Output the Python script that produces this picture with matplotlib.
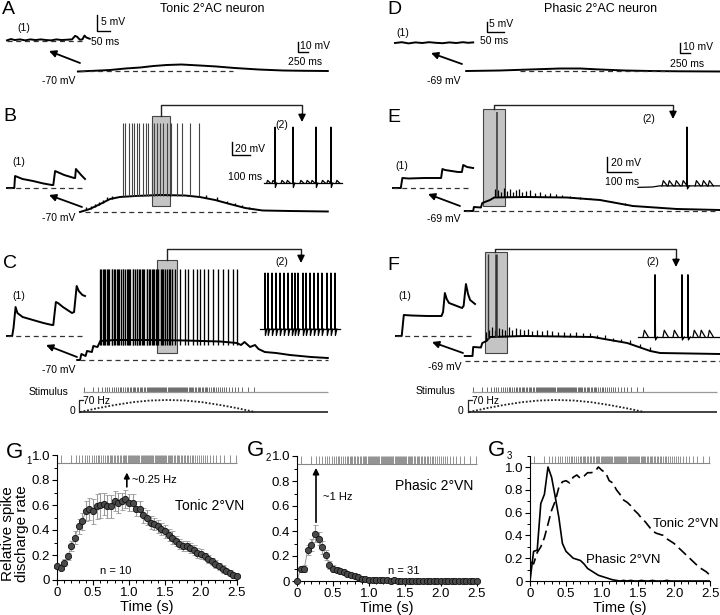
import numpy as np
import matplotlib
matplotlib.use("Agg")
import matplotlib.pyplot as plt
from matplotlib.patches import Rectangle
from matplotlib.ticker import MultipleLocator

plt.rcParams["font.family"] = ["Liberation Sans", "DejaVu Sans"]

W, H = 720, 615

# ---------------- recordings (time s from stimulus onset, membrane mV) ----------------
A_t = [-0.03, 0.2, 0.43, 0.65, 0.86, 1.05, 1.24, 1.45, 1.71, 1.95, 2.21, 2.55, 2.90, 3.2, 3.54]
A_v = [-70.5, -69.8, -69, -67.5, -66.5, -65, -64, -63.5, -64.5, -65.5, -67, -68.5, -69.5, -69.8, -70]
D_t = [-0.04, 0.44, 0.87, 1.30, 1.59, 1.87, 2.23, 2.59, 3.0, 3.59]
D_v = [-69, -68.5, -67.5, -66.5, -66.5, -67.5, -68.5, -69, -69.3, -69.5]

B_t = [0.0, 0.14, 0.29, 0.43, 0.57, 0.79, 1.14, 1.50, 1.71, 1.93, 2.14, 2.36, 2.61, 3.00, 3.54]
B_v = [-70, -67, -62, -57, -55, -54, -53, -53.5, -55, -58, -62, -66, -68.5, -69, -69.5]
B_spk = [0.61, 0.64, 0.70, 0.74, 0.77, 0.81, 0.84, 0.90, 0.94, 0.97, 1.03, 1.06,
         1.10, 1.14, 1.19, 1.24, 1.30, 1.39, 1.46, 1.57, 1.70]
B_ep_t = [0.08, 0.15, 0.21, 0.27, 0.33, 0.39, 0.45, 1.80, 1.95, 2.10, 2.22, 2.32, 2.42]
B_ep_h = [3, 3, 3, 3, 3, 3, 3, 3, 3, 2.5, 2.5, 2, 2]

C_t = [-0.04, 0.0, 0.02, 0.08, 0.10, 0.17, 0.19, 0.25, 0.29, 0.5, 1.0, 1.5, 2.0, 2.24,
       2.30, 2.35, 2.43, 2.50, 2.55, 2.64, 2.8, 3.0, 3.3, 3.54]
C_v = [-70, -70, -64, -66, -61, -62, -56, -57, -51, -50, -50, -50.5, -51.5, -53,
       -55, -52, -57, -55, -59, -62, -63, -65, -67, -68]
C_spk = [0.29, 0.30, 0.33, 0.34, 0.36, 0.39, 0.40, 0.42, 0.45, 0.46, 0.48, 0.50, 0.53,
         0.54, 0.56, 0.58, 0.61, 0.62, 0.64, 0.67, 0.68, 0.70, 0.72, 0.75, 0.76, 0.78,
         0.81, 0.82, 0.84, 0.86, 0.89, 0.90, 0.92, 0.95, 0.96, 0.98, 1.00, 1.03, 1.04,
         1.06, 1.09, 1.10, 1.12, 1.15, 1.17, 1.19, 1.22, 1.24, 1.27, 1.29, 1.32, 1.35,
         1.43, 1.50, 1.54, 1.61, 1.67, 1.71, 1.77, 1.83, 1.90, 1.97, 2.04, 2.11, 2.19, 2.24]

E_t = [-0.06, 0.06, 0.07, 0.17, 0.19, 0.30, 0.36, 0.80, 1.40, 1.87, 2.34, 2.97, 3.59]
E_v = [-69, -69, -65, -65.5, -61, -58, -55.5, -55, -55.5, -58, -64, -67, -68]
E_ep_t = [0.37, 0.41, 0.46, 0.50, 0.54, 0.59, 0.63, 0.67, 0.71, 0.76, 0.81, 0.87, 0.94,
          1.01, 1.09, 1.16, 1.24, 1.33, 1.44, 1.59, 1.73, 1.87, 2.04, 2.23]
E_ep_h = [8, 7, 5, 9, 6, 8, 5, 7, 8, 5, 6, 7, 4, 5, 3, 4, 3, 2.5, 2, 2, 1.5, 1.5, 1.2, 1.2]
E_big = [0.40]

F_t = [-0.06, 0.05, 0.06, 0.17, 0.19, 0.25, 0.30, 0.80, 1.30, 1.77, 2.26, 2.59, 2.73, 3.59]
F_v = [-64, -64, -55, -55.5, -51, -49, -45, -44, -44.5, -45, -51, -59, -61, -62]
F_ep_t = [0.24, 0.29, 0.33, 0.37, 0.43, 0.47, 0.51, 0.57, 0.61, 0.67, 0.73, 0.79, 0.84,
          0.90, 0.97, 1.04, 1.11, 1.19, 1.27, 1.36, 1.44, 1.53, 1.63, 1.73, 1.83, 1.94,
          2.06, 2.17, 2.30, 2.44, 2.59]
F_ep_h = [9, 8, 10, 7, 9, 8, 7, 9, 6, 8, 7, 6, 7, 5, 6, 5, 6, 5, 4, 5, 4, 5, 4, 4, 3, 4,
          3, 3, 4, 3, 4]
F_big = [0.27, 0.39]

# inset (1): onset of response, ms / mV
A1_t = [0, 15, 30, 50, 70, 90, 110, 130, 150, 170, 190, 210, 230, 250, 262, 270, 280, 290, 298, 305, 318]
A1_v = [0.2, 0.6, 0.3, 0.5, 0.2, 0.5, 0.3, 0.5, 0.3, 0.2, 0.5, 0.3, 0.4, 0.5, 1.6, 1.3, 0.4, 0.5, 1.7, 1.1, 0.7]
D1_t = [0, 20, 40, 60, 80, 100, 120, 140, 160, 180, 200, 215, 230]
D1_v = [0.0, 0.4, -0.2, 0.3, 0.0, 0.4, 0.1, -0.1, 0.3, 0.0, 0.4, 0.1, 0.3]
B1_t = [0, 28, 31, 60, 100, 140, 173, 178, 185, 220, 258, 262, 265, 285, 300]
B1_v = [-70, -70, -58, -61, -63, -65.5, -67, -67, -53, -57, -60, -60, -51, -57, -61]
C1_t = [0, 20, 25, 33, 40, 60, 100, 140, 173, 178, 188, 196, 215, 250, 258, 268, 276, 290, 300]
C1_v = [-70, -70, -62, -41, -47, -51, -54, -57, -59, -59, -36, -37, -41, -47, -46, -20, -25, -29, -30]
E1_t = [0, 30, 36, 60, 120, 185, 190, 200, 250, 265, 270, 285, 308]
E1_v = [-69, -69, -59, -59.5, -59, -59, -50, -51, -53, -53, -46, -48, -49]
F1_t = [0, 22, 30, 60, 120, 175, 181, 188, 195, 204, 254, 260, 269, 277, 285, 304]
F1_v = [-69, -69, -48, -48.5, -49, -49, -45, -26, -32, -36, -41, -39, -17, -27, -33, -37]

# inset (2): expanded window, ms
B2_spk = [61, 161, 289, 372]
B2_ep = [15, 45, 95, 125, 200, 235, 262, 320, 350, 400]
C2_spk = [28, 44, 67, 89, 111, 133, 156, 178, 194, 211, 239, 256, 278, 300, 322, 344, 372, 394, 417]
E2_t = [0, 60, 90, 342]
E2_v = [-55.5, -55, -53.5, -53.5]
E2_ep = [100, 125, 154, 183, 238, 267, 292]
E2_spk = [204]
F2_ep = [21, 104, 146, 229, 258, 292]
F2_spk = [71, 183, 208]

# stimulus pulse train (s) and rate envelope (Hz)
stim_times = [0.05, 0.19, 0.26, 0.31, 0.35, 0.39, 0.42, 0.45, 0.48, 0.51, 0.54, 0.565,
              0.59, 0.615, 0.64, 0.665, 0.69, 0.71, 0.73, 0.75, 0.77, 0.79, 0.81, 0.83,
              0.85, 0.87, 0.89, 0.91, 0.93, 0.95, 0.965, 0.98, 0.995, 1.01, 1.025, 1.04,
              1.055, 1.07, 1.085, 1.10, 1.115, 1.13, 1.145, 1.16, 1.175, 1.19, 1.205,
              1.22, 1.235, 1.25, 1.265, 1.28, 1.295, 1.31, 1.325, 1.34, 1.355, 1.37,
              1.385, 1.40, 1.415, 1.43, 1.445, 1.46, 1.475, 1.49, 1.505, 1.52, 1.535,
              1.55, 1.565, 1.58, 1.60, 1.62, 1.64, 1.66, 1.68, 1.70, 1.72, 1.74, 1.76,
              1.78, 1.80, 1.82, 1.845, 1.87, 1.895, 1.92, 1.945, 1.97, 2.00, 2.03, 2.06,
              2.09, 2.13, 2.17, 2.21, 2.26, 2.32, 2.40, 2.48]
rate_t = [0.0, 0.25, 0.5, 0.75, 1.0, 1.25, 1.5, 1.75, 2.0, 2.25, 2.5]
rate_v = [0, 22, 41, 57, 67, 70, 67, 57, 41, 22, 0]

# population discharge (50 ms bins)
G_t = [0.0, 0.05, 0.1, 0.15, 0.2, 0.25, 0.3, 0.35, 0.4, 0.45, 0.5, 0.55, 0.6, 0.65, 0.7,
       0.75, 0.8, 0.85, 0.9, 0.95, 1.0, 1.05, 1.1, 1.15, 1.2, 1.25, 1.3, 1.35, 1.4, 1.45,
       1.5, 1.55, 1.6, 1.65, 1.7, 1.75, 1.8, 1.85, 1.9, 1.95, 2.0, 2.05, 2.1, 2.15, 2.2,
       2.25, 2.3, 2.35, 2.4, 2.45, 2.5]
tonic_rate = [0.11, 0.10, 0.14, 0.19, 0.27, 0.34, 0.43, 0.47, 0.55, 0.57,
              0.55, 0.59, 0.60, 0.61, 0.59, 0.59, 0.63, 0.62, 0.63, 0.65,
              0.62, 0.62, 0.57, 0.57, 0.52, 0.50, 0.46, 0.45, 0.43, 0.41,
              0.39, 0.36, 0.34, 0.31, 0.29, 0.27, 0.27, 0.26, 0.24, 0.22,
              0.21, 0.19, 0.17, 0.15, 0.13, 0.11, 0.09, 0.07, 0.06, 0.04, 0.03]
tonic_err = [0.02, 0.02, 0.03, 0.03, 0.04, 0.05, 0.06, 0.07, 0.08, 0.09,
             0.10, 0.10, 0.10, 0.09, 0.09, 0.09, 0.08, 0.08, 0.07, 0.07,
             0.07, 0.07, 0.06, 0.06, 0.06, 0.06, 0.05, 0.05, 0.05, 0.05,
             0.05, 0.05, 0.05, 0.04, 0.04, 0.04, 0.04, 0.04, 0.04, 0.04,
             0.04, 0.03, 0.03, 0.03, 0.03, 0.03, 0.03, 0.02, 0.02, 0.02, 0.01]
phasic_rate = [0.00, 0.10, 0.10, 0.25, 0.29, 0.38, 0.34, 0.27, 0.21, 0.13,
               0.10, 0.09, 0.08, 0.07, 0.06, 0.05, 0.04, 0.03, 0.02, 0.015,
               0.01, 0.01, 0.005, 0.005, 0.005, 0.005, 0.0, 0.005, 0.0, 0.0,
               0.0, 0.0, 0.0, 0.0, 0.0, 0.0, 0.0, 0.0, 0.0, 0.0,
               0.0, 0.0, 0.0, 0.0, 0.0, 0.0, 0.0, 0.0, 0.0, 0.0, 0.0]
phasic_err = [0.0, 0.02, 0.03, 0.04, 0.05, 0.07, 0.05, 0.05, 0.04, 0.03,
              0.03, 0.02, 0.02, 0.02, 0.02, 0.015, 0.015, 0.01, 0.01, 0.01,
              0.005, 0.005, 0.005, 0.005, 0.005, 0.005, 0.005, 0.005, 0.005, 0.005,
              0.005, 0.005, 0.005, 0.005, 0.005, 0.005, 0.005, 0.005, 0.005, 0.005,
              0.005, 0.005, 0.005, 0.005, 0.005, 0.005, 0.005, 0.005, 0.005, 0.005, 0.005]
phasic_norm = [0.00, 0.26, 0.27, 0.68, 0.76, 1.00, 0.91, 0.74, 0.56, 0.33,
               0.26, 0.23, 0.20, 0.19, 0.18, 0.15, 0.11, 0.09, 0.07, 0.05,
               0.04, 0.03, 0.02, 0.01, 0.005, 0.0, 0.005, 0.0, 0.005, 0.0,
               0.0, 0.005, 0.0, 0.0, 0.005, 0.0, 0.0, 0.0, 0.005, 0.0,
               0.0, 0.0, 0.0, 0.0, 0.0, 0.0, 0.0, 0.0, 0.0, 0.0, 0.0]
tonic_norm = [0.17, 0.15, 0.25, 0.30, 0.38, 0.50, 0.62, 0.70, 0.82, 0.87,
              0.88, 0.86, 0.91, 0.93, 0.90, 0.92, 0.95, 0.95, 0.96, 1.00,
              0.97, 0.95, 0.88, 0.86, 0.80, 0.76, 0.71, 0.69, 0.66, 0.62,
              0.59, 0.55, 0.52, 0.48, 0.44, 0.42, 0.41, 0.40, 0.37, 0.35,
              0.33, 0.30, 0.27, 0.24, 0.21, 0.18, 0.15, 0.12, 0.10, 0.08, 0.05]

# ---------------- helpers ----------------
fig = plt.figure(figsize=(7.2, 6.15), dpi=100)

DASH = (0, (4, 3))
BOX = "#c4c4c4"
TR = dict(color="black", lw=1.4, solid_joinstyle="round", zorder=2)


def px_axes(x0, y0, x1, y1, xa, ya, sx, sy):
    # axes over a pixel box; value xa[1] sits at pixel xa[0], sx/sy = px per unit
    ax = fig.add_axes([x0 / W, 1 - y1 / H, (x1 - x0) / W, (y1 - y0) / H])
    ax.set_xlim(xa[1] + (x0 - xa[0]) / sx, xa[1] + (x1 - xa[0]) / sx)
    ax.set_ylim(ya[1] - (y1 - ya[0]) / sy, ya[1] - (y0 - ya[0]) / sy)
    ax.axis("off")
    return ax


def ptext(x, y, s, size=7.5, ha="left", va="center", **kw):
    fig.text(x / W, 1 - y / H, s, fontsize=size, ha=ha, va=va, **kw)


def scalebar(ax, x, y, dx, dy):
    ax.plot([x, x, x + dx], [y + dy, y, y], color="black", lw=1.0, clip_on=False)


def dashed(ax, v, t0, t1):
    ax.hlines(v, t0, t1, color="#333", lw=0.9, linestyles=DASH)


def epsps(ax, times, heights, env_t, env_v, **kw):
    base = np.interp(times, env_t, env_v)
    ax.vlines(times, base, base + np.asarray(heights), zorder=3, **kw)


def bumps(ax, times, h, w, base_t, base_v):
    for t in times:
        b = np.interp(t, base_t, base_v)
        ax.plot([t, t + 0.25 * w, t + w], [b, b + h, b], color="black", lw=0.9)


def inset_spikes(ax, times, base, peak, dip):
    for t in times:
        ax.plot([t - 1, t, t + 2, t + 10], [base, peak, base - dip, base],
                color="black", lw=0.9)


# ---------------- A / D: subthreshold ----------------
axA = px_axes(40, 25, 345, 95, (80, 0), (71, -70), 70, 1.0)
axA.plot(A_t, A_v, **TR)
dashed(axA, -70, 0, 2.19)
scalebar(axA, 3.11, -51, 0.15, 10)
axA1 = px_axes(0, 5, 135, 55, (7, 0), (41, 0), 0.26, 3.2)
axA1.plot(A1_t, A1_v, **TR)
dashed(axA1, 0, 0, 290)
scalebar(axA1, 346, 3.1, 50, 5)

axD = px_axes(440, 25, 720, 95, (469, 0), (71, -69), 70, 1.0)
axD.plot(D_t, D_v, **TR)
dashed(axD, -69, 0.73, 2.87)
scalebar(axD, 3.01, -51, 0.15, 10)
axD1 = px_axes(385, 5, 530, 55, (395, 0), (43, 0), 0.34, 2.0)
axD1.plot(D1_t, D1_v, **TR)
scalebar(axD1, 271, 5.5, 50, 5)

# ---------------- B / E ----------------
axB = px_axes(40, 100, 345, 228, (80, 0), (212, -70), 70, 1.0)
axB.add_patch(Rectangle((1.03, -64), 0.26, 90, fc=BOX, ec="#444", lw=0.8, zorder=1))
axB.plot(B_t, B_v, **TR)
epsps(axB, B_ep_t, B_ep_h, B_t, B_v, color="black", lw=1.0)
axB.vlines(B_spk, -54, 19, color="#444", lw=0.8, zorder=3)
dashed(axB, -70, 0.07, 2.57)
axB1 = px_axes(0, 150, 95, 200, (7, 0), (188, -70), 0.26, 1.0)
axB1.plot(B1_t, B1_v, **TR)
dashed(axB1, -70, 0, 290)
axB2 = px_axes(215, 115, 350, 195, (264, 0), (183, -55), 0.18, 0.65)
axB2.plot([0, 433], [-55, -55], color="black", lw=0.9)
bumps(axB2, B2_ep, 4, 20, [0, 433], [-55, -55])
inset_spikes(axB2, B2_spk, -55, 31, 7)
scalebar(axB2, -178, -12, 100, 20)

axE = px_axes(440, 100, 720, 228, (469, 0), (211, -69), 70, 1.0)
axE.add_patch(Rectangle((0.2, -64), 0.31, 97, fc=BOX, ec="#444", lw=0.8, zorder=1))
axE.plot(E_t, E_v, **TR)
epsps(axE, E_ep_t, E_ep_h, E_t, E_v, color="black", lw=0.9)
epsps(axE, E_big, [30 - np.interp(E_big[0], E_t, E_v)], E_t, E_v, color="#333", lw=1.1)
dashed(axE, -69, -0.06, 3.54)
axE1 = px_axes(385, 150, 480, 200, (393, 0), (188, -69), 0.26, 1.0)
axE1.plot(E1_t, E1_v, **TR)
dashed(axE1, -69, 0, 300)
axE2 = px_axes(590, 115, 720, 195, (638, 0), (187, -55), 0.24, 0.75)
axE2.plot(E2_t, E2_v, color="black", lw=0.9)
bumps(axE2, E2_ep, 7, 22, E2_t, E2_v)
inset_spikes(axE2, E2_spk, -53.5, 25, 4)
scalebar(axE2, -129, -35, 100, 20)

# ---------------- C / F ----------------
axC = px_axes(40, 240, 345, 378, (80, 0), (360, -70), 70, 1.0)
axC.add_patch(Rectangle((1.10, -63), 0.29, 93, fc=BOX, ec="#444", lw=0.8, zorder=1))
axC.plot(C_t, C_v, **TR)
axC.vlines(C_spk, -55, 21, color="black", lw=0.95, zorder=3)
dashed(axC, -70, 0.0, 3.54)
axC1 = px_axes(0, 275, 95, 345, (7, 0), (336, -70), 0.26, 1.0)
axC1.plot(C1_t, C1_v, **TR)
dashed(axC1, -70, 0, 290)
axC2 = px_axes(250, 265, 350, 345, (260, 0), (329, -55), 0.18, 0.65)
axC2.plot([0, 444], [-55, -55], color="black", lw=0.9)
inset_spikes(axC2, C2_spk, -55, 31, 10)

axF = px_axes(440, 240, 720, 378, (469, 0), (361, -69), 70, 1.0)
axF.add_patch(Rectangle((0.23, -61), 0.31, 101, fc=BOX, ec="#444", lw=0.8, zorder=1))
axF.plot(F_t, F_v, **TR)
epsps(axF, F_ep_t, F_ep_h, F_t, F_v, color="black", lw=0.9)
epsps(axF, F_big[:1], [38 - np.interp(F_big[0], F_t, F_v)], F_t, F_v, color="#333", lw=1.0)
epsps(axF, F_big[1:], [38 - np.interp(F_big[1], F_t, F_v)], F_t, F_v, color="#333", lw=1.8)
dashed(axF, -69, -0.06, 3.59)
axF1 = px_axes(385, 275, 480, 345, (396, 0), (336, -69), 0.26, 1.0)
axF1.plot(F1_t, F1_v, **TR)
dashed(axF1, -69, 0, 300)
axF2 = px_axes(590, 265, 720, 345, (638, 0), (337, -55), 0.24, 0.75)
axF2.plot([0, 342], [-55, -55], color="black", lw=0.9)
bumps(axF2, F2_ep, 9, 22, [0, 342], [-55, -55])
inset_spikes(axF2, F2_spk, -55, 28, 4)

# ---------------- stimulus rows ----------------
for t0, xa, xb in ((80, 60, 340), (469, 440, 720)):
    st = px_axes(xa, 383, xb, 395, (t0, 0), (392, 0), 70, 5.0)
    st.vlines(stim_times, 0, 1, color="#555", lw=0.6)
    st.hlines(0, 0.04, 3.54, color="#999", lw=0.9)
    rt = px_axes(xa, 396, xb, 416, (t0, 0), (412, 0), 70, 12 / 70)
    rt.plot(rate_t, rate_v, color="#222", lw=1.3, linestyle=(0, (1, 1)))
    rt.hlines(0, -0.01, 3.54, color="#222", lw=1.2)
    rt.plot([0.04, -0.01, -0.01], [70, 70, 0], color="#222", lw=0.9)

ptext(68, 392, "Stimulus", 7.5, ha="right")
ptext(83, 401, "70 Hz", 7.5)
ptext(72, 411, "0", 7.5, ha="center")
ptext(455, 391, "Stimulus", 7.5, ha="right")
ptext(472, 401, "70 Hz", 7.5)
ptext(461, 411, "0", 7.5, ha="center")

# ---------------- G panels ----------------
def style_g(ax, ytop):
    for s in ("top", "right"):
        ax.spines[s].set_visible(False)
    for s in ("left", "bottom"):
        ax.spines[s].set_linewidth(0.8)
    ax.set_xlim(0, 2.5)
    ax.set_ylim(0, ytop)
    ax.set_xticks([0, 0.5, 1.0, 1.5, 2.0, 2.5])
    ax.set_xticklabels(["0", "0.5", "1.0", "1.5", "2.0", "2.5"])
    ax.set_yticks([0, 0.2, 0.4, 0.6, 0.8, 1.0])
    ax.set_yticklabels(["0", "0.2", "0.4", "0.6", "0.8", "1.0"])
    ax.xaxis.set_minor_locator(MultipleLocator(0.1))
    ax.yaxis.set_minor_locator(MultipleLocator(0.1))
    ax.tick_params(which="major", direction="out", length=3.5, width=0.8, labelsize=9.5, pad=1.5)
    ax.tick_params(which="minor", direction="out", length=2.5, width=0.7)
    ax.set_xlabel("Time (s)", fontsize=10.5, labelpad=1)
    ax.patch.set_alpha(0)


def g_axes(x0, y_bottom, height):
    return fig.add_axes([x0 / W, 1 - y_bottom / H, 180 / W, height / H])


def pulse_row(ax, lo, hi):
    ax.vlines(stim_times, lo, hi, color="#666", lw=0.5, clip_on=False)
    ax.hlines(lo, 0, 2.5, color="#888", lw=0.8, clip_on=False)


g1 = g_axes(57, 580, 125)
style_g(g1, 1.0)
pulse_row(g1, 0.935, 1.0)
g1.plot(G_t, tonic_rate, color="#888", lw=0.6, zorder=2)
g1.errorbar(G_t, tonic_rate, yerr=tonic_err, fmt="o", ms=4.5, mfc="#4a4a4a", mec="#111",
            mew=0.6, ecolor="#9a9a9a", elinewidth=0.8, capsize=1.8, capthick=0.8,
            zorder=3, clip_on=False)
g1.annotate("", xy=(0.97, 0.86), xytext=(0.97, 0.745),
            arrowprops=dict(arrowstyle="-|>", color="black", lw=1.2, mutation_scale=8,
                            shrinkA=0, shrinkB=0))

g2 = g_axes(297, 581, 125)
style_g(g2, 1.0)
pulse_row(g2, 0.935, 1.0)
g2.plot(G_t, phasic_rate, color="#888", lw=0.6, zorder=2)
g2.errorbar(G_t, phasic_rate, yerr=phasic_err, fmt="o", ms=4.5, mfc="#4a4a4a", mec="#111",
            mew=0.6, ecolor="#9a9a9a", elinewidth=0.8, capsize=1.8, capthick=0.8,
            zorder=3, clip_on=False)
g2.annotate("", xy=(0.264, 0.905), xytext=(0.264, 0.47),
            arrowprops=dict(arrowstyle="-|>", color="black", lw=1.2, mutation_scale=9,
                            shrinkA=0, shrinkB=0))

g3 = g_axes(530, 581, 125.4)
style_g(g3, 1.1)
pulse_row(g3, 1.035, 1.1)
g3.plot(G_t, tonic_norm, color="black", lw=1.2, linestyle=(0, (6, 3)))
g3.plot(G_t, phasic_norm, color="black", lw=1.2)

ptext(15, 534, "Relative spike\ndischarge rate", 11, ha="center", rotation=90,
      linespacing=1.0)
ptext(6, 452, "G", 16)
ptext(26, 461, "1", 7)
ptext(247, 450, "G", 16)
ptext(266, 458, "2", 7)
ptext(488, 450, "G", 16)
ptext(507, 456, "3", 7)
ptext(132, 480, "~0.25 Hz", 8)
ptext(175, 506, "Tonic 2°VN", 10)
ptext(100, 571, "n = 10", 8)
ptext(323, 497, "~1 Hz", 8)
ptext(395, 486, "Phasic 2°VN", 10)
ptext(388, 571, "n = 31", 8)
ptext(653, 524, "Tonic 2°VN", 9.5)
ptext(586, 560, "Phasic 2°VN", 9.5)

# ---------------- trace labels ----------------
for letter, x, y in (("A", 2, 9), ("D", 387, 9), ("B", 3, 117), ("E", 387, 118),
                     ("C", 3, 263), ("F", 387, 266)):
    ptext(x, y, letter, 14)
ptext(212, 9, "Tonic 2°AC neuron", 9, ha="center")
ptext(601, 9, "Phasic 2°AC neuron", 9, ha="center")

small = [(17, 28, "(1)"), (101, 22, "5 mV"), (91, 42, "50 ms"), (300, 46, "10 mV"),
         (288, 62, "250 ms"), (42, 81, "-70 mV"),
         (396, 33, "(1)"), (489, 24, "5 mV"), (480, 41, "50 ms"), (683, 47, "10 mV"),
         (670, 64, "250 ms"), (427, 81, "-69 mV"),
         (12, 162, "(1)"), (42, 218, "-70 mV"), (275, 125, "(2)"), (235, 149, "20 mV"),
         (228, 177, "100 ms"),
         (395, 166, "(1)"), (427, 219, "-69 mV"), (642, 119, "(2)"), (611, 163, "20 mV"),
         (605, 182, "100 ms"),
         (12, 296, "(1)"), (42, 370, "-70 mV"), (275, 262, "(2)"),
         (398, 296, "(1)"), (428, 367, "-69 mV"), (646, 262, "(2)")]
for x, y, s in small:
    ptext(x, y, s, 7.5)

# ---------------- overlay: arrows and connectors ----------------
ov = fig.add_axes([0, 0, 1, 1])
ov.set_xlim(0, W)
ov.set_ylim(H, 0)
ov.axis("off")


def arrow(x0, y0, x1, y1, lw=1.3, ms=10):
    ov.annotate("", xy=(x1, y1), xytext=(x0, y0),
                arrowprops=dict(arrowstyle="-|>", color="black", lw=lw, mutation_scale=ms,
                                shrinkA=0, shrinkB=0))


for x0, y0, x1, y1 in ((80, 63, 49, 51), (462, 64, 431, 53), (82, 207, 49, 195),
                       (460, 206, 428, 194), (77, 357, 46, 345), (463, 353, 432, 342)):
    arrow(x0, y0, x1, y1)

for xl, yb, yl, xr, ytip in ((161, 116, 105, 302, 122), (167, 260, 249, 301, 263),
                             (494, 109, 105, 673, 119), (495, 252, 249, 676, 267)):
    ov.plot([xl, xl, xr, xr], [yb, yl, yl, ytip - 6], color="#222", lw=1.0)
    arrow(xr, ytip - 8, xr, ytip, lw=1.0, ms=11)

fig.savefig("out.png", dpi=100)
